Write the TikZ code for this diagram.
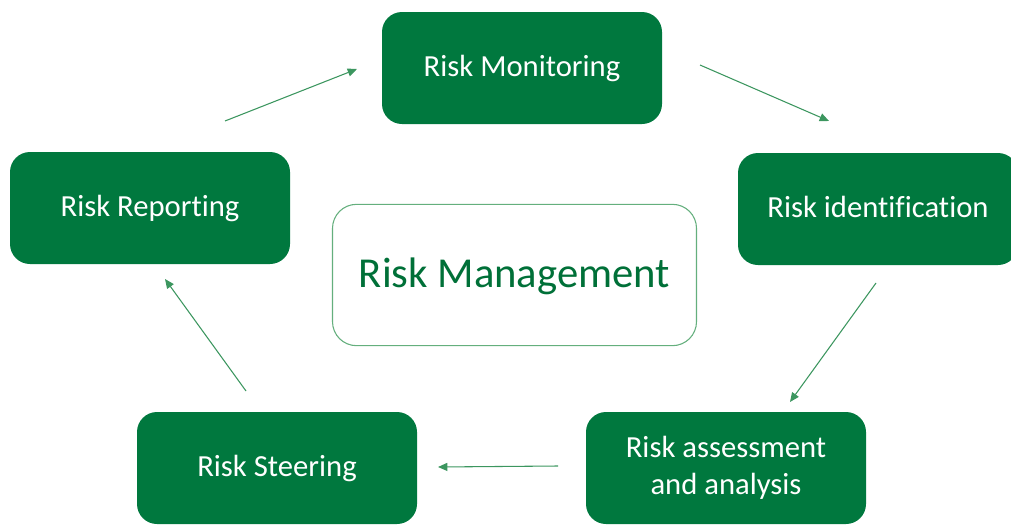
\documentclass[tikz,border=0pt]{standalone}
\usepackage{fontspec}
\setmainfont[Ligatures=NoCommon]{Carlito}
\usetikzlibrary{arrows.meta}
\definecolor{boxgreen}{RGB}{0,120,62}
\definecolor{textgreen}{RGB}{0,112,56}
\definecolor{linegreen}{RGB}{60,150,95}
\definecolor{rimgreen}{RGB}{100,175,125}
\tikzset{
  stepbox/.style={draw=none, fill=boxgreen, rounded corners=15pt, minimum width=210pt, minimum height=84pt, text=white, font=\fontsize{23}{28}\selectfont, align=center, inner sep=0pt, text depth=0.36em},
  centerbox/.style={draw=rimgreen, line width=0.8pt, fill=white, rounded corners=18pt, minimum width=273pt, minimum height=106pt, text=textgreen, font=\fontsize{32}{38}\selectfont, inner sep=0pt, text depth=0.4em},
  flow/.style={draw=linegreen, line width=0.8pt, -{Triangle[length=7pt,width=6pt]}}
}
\begin{document}
\begin{tikzpicture}[x=0.75pt,y=-0.75pt]
\clip (0,0) rectangle (1011,525);
\node[stepbox] (mon) at (522,68) {Risk Monitoring};
\node[stepbox] (ident) at (878,209) {Risk identification};
\node[stepbox] (assess) at (726,468) {Risk assessment\\and analysis};
\node[stepbox] (steer) at (277,468) {Risk Steering};
\node[stepbox] (rep) at (150,208) {Risk Reporting};
\node[centerbox] (rm) at (514.5,275) {Risk Management};
\coordinate (a1s) at (225,121); \coordinate (a1e) at (357,69);
\coordinate (a2s) at (700,65);  \coordinate (a2e) at (829,121);
\coordinate (a3s) at (876,283); \coordinate (a3e) at (790,402);
\coordinate (a4s) at (558,466); \coordinate (a4e) at (438,467);
\coordinate (a5s) at (246,391); \coordinate (a5e) at (165,279);
\draw[flow] (a1s) -- (a1e);
\draw[flow] (a2s) -- (a2e);
\draw[flow] (a3s) -- (a3e);
\draw[flow] (a4s) -- (a4e);
\draw[flow] (a5s) -- (a5e);
\end{tikzpicture}
\end{document}
